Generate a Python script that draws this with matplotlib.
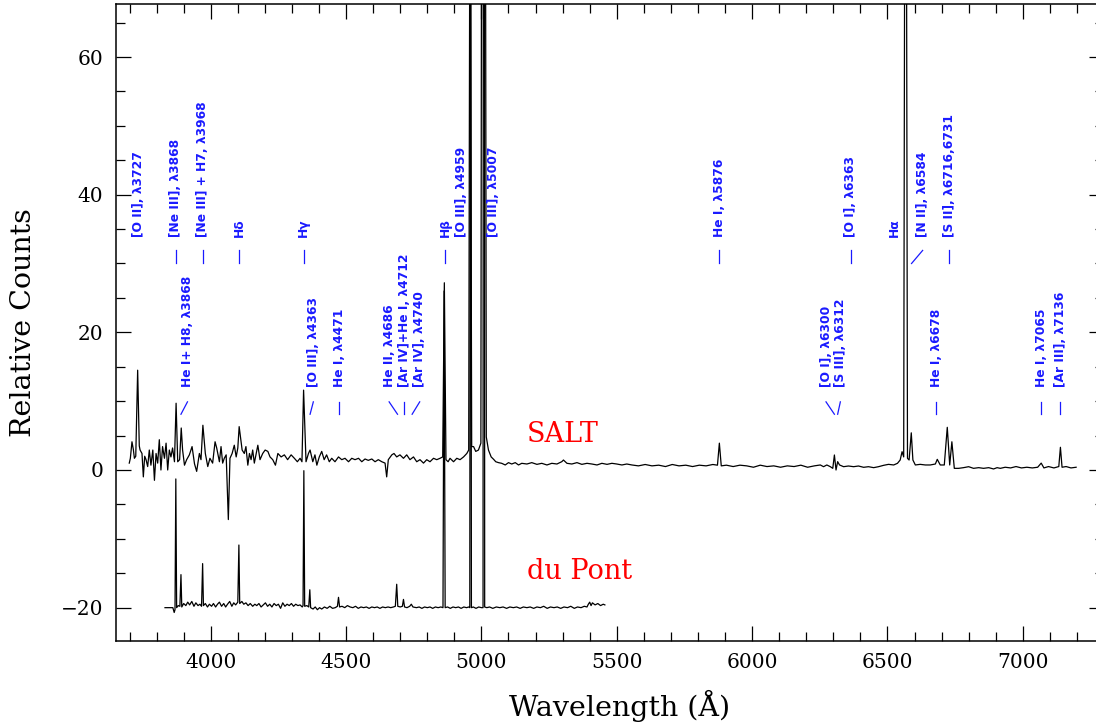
import matplotlib
matplotlib.use('Agg')
import matplotlib.pyplot as plt
from matplotlib.ticker import MultipleLocator

# SALT spectrum (wavelength in A, relative counts)
salt_wave = [3699, 3703, 3709, 3714, 3718, 3723, 3730, 3736, 3739, 3746, 3751, 3756, 3761, 3767,
             3773, 3779, 3786, 3792, 3798, 3804, 3810, 3816, 3822, 3829, 3835, 3841, 3847, 3853,
             3859, 3866, 3872, 3878, 3885, 3891, 3896, 3903, 3911, 3921, 3931, 3940, 3948, 3958,
             3964, 3971, 3980, 3989, 3997, 4007, 4016, 4022, 4032, 4038, 4044, 4050, 4057, 4065,
             4071, 4079, 4087, 4094, 4100, 4105, 4116, 4124, 4130, 4137, 4143, 4149, 4155, 4161,
             4167, 4174, 4182, 4192, 4201, 4211, 4219, 4229, 4239, 4248, 4260, 4272, 4284, 4297,
             4309, 4320, 4330, 4337, 4343, 4352, 4361, 4367, 4377, 4385, 4392, 4401, 4410, 4419,
             4428, 4438, 4447, 4459, 4472, 4484, 4496, 4509, 4521, 4533, 4546, 4558, 4570, 4582,
             4595, 4607, 4619, 4632, 4644, 4650, 4656, 4669, 4677, 4687, 4699, 4712, 4724, 4736,
             4749, 4761, 4773, 4786, 4798, 4810, 4823, 4835, 4847, 4857, 4863, 4869, 4877, 4884,
             4897, 4909, 4921, 4934, 4946, 4953, 4958, 4964, 4971, 4979, 4989, 4998, 5007, 5018,
             5026, 5036, 5045, 5053, 5063, 5075, 5088, 5100, 5112, 5125, 5137, 5149, 5168, 5186,
             5205, 5223, 5242, 5260, 5279, 5297, 5303, 5316, 5334, 5353, 5371, 5390, 5408, 5427,
             5445, 5464, 5482, 5500, 5519, 5537, 5556, 5580, 5605, 5630, 5655, 5680, 5705, 5730,
             5755, 5780, 5805, 5830, 5855, 5872, 5879, 5886, 5905, 5930, 5955, 5980, 6005, 6030,
             6055, 6080, 6105, 6130, 6155, 6180, 6205, 6230, 6252, 6264, 6276, 6289, 6298, 6304,
             6310, 6316, 6323, 6338, 6356, 6375, 6393, 6412, 6430, 6449, 6467, 6486, 6504, 6523,
             6537, 6547, 6554, 6560, 6567, 6574, 6580, 6588, 6594, 6603, 6621, 6640, 6658, 6677,
             6684, 6695, 6710, 6721, 6730, 6738, 6747, 6763, 6781, 6800, 6818, 6837, 6855, 6874,
             6892, 6905, 6917, 6935, 6955, 6975, 6995, 7015, 7035, 7055, 7068, 7078, 7095, 7115,
             7133, 7139, 7145, 7160, 7178, 7197]
salt_flux = [1.0, 1.7, 4.1, 3.0, 1.7, 2.0, 14.5, 3.5, 2.9, 2.4, -1.0, 2.0, 1.5, 0.5,
             2.9, 0.7, 2.9, -1.5, 2.4, 1.0, 4.4, 0.0, 3.4, 1.7, 3.9, 0.0, 2.9, 1.9,
             3.2, 1.2, 9.7, 1.2, 1.5, 6.1, 2.9, 0.7, 1.5, 2.2, 3.4, 0.9, -0.2, 2.4,
             1.5, 6.5, 2.4, 0.5, 1.7, 1.0, 4.1, 3.2, 1.2, 3.4, 1.0, 1.7, 2.2, -7.2,
             1.7, 2.4, 3.6, 1.9, 3.2, 6.3, 2.9, 2.4, 3.4, 0.7, 2.4, 1.5, 2.9, 1.0,
             2.2, 3.6, 1.5, 2.4, 2.9, 2.7, 1.9, 1.5, 0.7, 2.4, 1.9, 2.2, 1.5, 2.2,
             1.7, 1.2, 1.7, 1.2, 11.6, 1.2, 2.4, 2.9, 1.2, 2.2, 0.7, 1.9, 2.7, 1.5,
             2.2, 1.2, 1.7, 1.2, 1.9, 1.5, 1.7, 1.2, 1.7, 1.5, 1.7, 1.2, 1.6, 1.4,
             1.6, 1.2, 1.5, 1.2, 1.0, -1.0, 1.5, 2.2, 2.4, 1.9, 2.2, 1.7, 2.2, 1.5,
             1.9, 1.2, 1.5, 1.0, 1.5, 1.2, 1.7, 1.5, 1.7, 1.9, 27.2, 1.5, 1.2, 1.7,
             1.2, 1.7, 1.5, 1.9, 2.4, 2.9, 100.0, 3.4, 3.4, 2.7, 2.9, 3.9, 300.0, 4.8,
             2.9, 1.9, 1.55, 1.2, 1.07, 0.97, 0.73, 1.07, 0.87, 1.07, 0.73, 0.97, 0.87, 1.07,
             0.82, 0.97, 0.73, 0.97, 0.87, 1.21, 1.45, 0.97, 0.87, 1.07, 0.82, 0.97, 0.87, 0.73,
             0.97, 0.82, 0.97, 0.87, 0.73, 0.87, 0.73, 0.6, 0.8, 0.6, 0.7, 0.5, 0.8, 0.6,
             0.7, 0.5, 0.7, 0.6, 0.8, 0.7, 3.9, 0.6, 0.7, 0.5, 0.7, 0.6, 0.4, 0.7,
             0.5, 0.6, 0.4, 0.6, 0.5, 0.7, 0.4, 0.6, 0.73, 0.48, 0.73, 0.48, 0.24, 2.18,
             0.0, 1.21, 0.73, 0.48, 0.58, 0.48, 0.58, 0.39, 0.48, 0.34, 0.48, 0.68, 0.82, 0.73,
             0.97, 1.45, 2.66, 1.9, 150.0, 1.7, 1.45, 5.4, 1.45, 0.73, 0.82, 0.73, 0.73, 0.87,
             1.55, 0.73, 0.73, 6.2, 0.73, 4.1, 0.24, 0.24, 0.34, 0.48, 0.24, 0.34, 0.24, 0.34,
             0.15, 0.34, 0.24, 0.4, 0.3, 0.5, 0.3, 0.4, 0.3, 0.4, 1.0, 0.3, 0.5, 0.3,
             0.5, 3.3, 0.4, 0.5, 0.3, 0.4]

# du Pont spectrum, plotted shifted down by 20
dupont_wave = [3831, 3850, 3860, 3865, 3868, 3871, 3874, 3880, 3886, 3890, 3893, 3900, 3908, 3915,
               3922, 3930, 3938, 3945, 3953, 3960, 3966, 3970, 3973, 3980, 3988, 3995, 4003, 4010,
               4018, 4025, 4032, 4040, 4048, 4055, 4062, 4070, 4078, 4085, 4092, 4100, 4104, 4107,
               4115, 4122, 4130, 4138, 4146, 4155, 4163, 4170, 4178, 4186, 4194, 4202, 4210, 4218,
               4226, 4234, 4242, 4250, 4258, 4266, 4274, 4282, 4290, 4298, 4306, 4314, 4322, 4330,
               4338, 4341, 4344, 4347, 4355, 4362, 4366, 4369, 4378, 4386, 4394, 4402, 4410, 4420,
               4430, 4440, 4450, 4460, 4468, 4472, 4476, 4485, 4495, 4505, 4515, 4525, 4535, 4545,
               4555, 4565, 4575, 4585, 4595, 4605, 4615, 4625, 4635, 4645, 4655, 4665, 4675, 4682,
               4687, 4691, 4700, 4708, 4712, 4716, 4725, 4735, 4741, 4747, 4760, 4770, 4780, 4790,
               4800, 4810, 4820, 4830, 4840, 4850, 4858, 4862, 4866, 4875, 4885, 4895, 4905, 4915,
               4925, 4935, 4945, 4953, 4957, 4960, 4963, 4970, 4980, 4990, 5000, 5006, 5009, 5012,
               5020, 5030, 5042, 5055, 5068, 5080, 5093, 5105, 5118, 5130, 5143, 5155, 5168, 5180,
               5193, 5205, 5218, 5230, 5243, 5255, 5268, 5280, 5293, 5305, 5318, 5330, 5343, 5355,
               5368, 5380, 5390, 5395, 5400, 5405, 5410, 5420, 5430, 5440, 5450, 5456]
dupont_flux = [0.0, 0.0, 0.0, -0.7, -0.3, 18.7, 0.0, 0.3, 0.2, 4.8, 0.1, 0.6, 0.3, 0.8,
               0.4, 0.9, 0.2, 0.7, 0.3, 0.5, 0.2, 6.4, 0.3, 0.6, 0.1, 0.5, 0.2, 0.6,
               0.1, 0.5, 0.8, 0.2, 0.6, 0.1, 0.5, 0.9, 0.2, 0.7, 0.4, 0.8, 9.1, 0.6,
               0.9, 0.5, 0.7, 0.3, 0.6, 0.2, 0.5, 0.3, 0.6, 0.1, 0.4, 0.7, 0.2, 0.5,
               0.1, 0.6, 0.3, 0.5, -0.1, 0.7, 0.2, 0.5, 0.3, 0.6, 0.2, 0.5, 0.3, 0.4,
               0.1, 0.3, 19.9, 0.2, 0.3, 0.1, 2.6, 0.0, -0.2, 0.1, -0.3, 0.0, -0.2, 0.1,
               -0.1, 0.2, -0.1, 0.0, 0.2, 1.5, 0.1, 0.2, 0.0, 0.3, 0.1, 0.0, 0.2, -0.1,
               0.1, 0.0, 0.1, -0.1, 0.1, 0.0, 0.1, -0.1, 0.1, 0.0, 0.1, 0.0, 0.1, 0.2,
               3.4, 0.2, 0.1, 0.2, 1.2, 0.1, 0.0, 0.2, 0.5, 0.1, 0.0, 0.1, -0.1, 0.1,
               0.0, 0.1, -0.1, 0.1, 0.0, 0.1, 0.0, 46.0, 0.0, 0.1, -0.1, 0.1, 0.0, 0.1,
               -0.1, 0.1, 0.0, 0.1, 0.0, 140.0, 0.0, 0.1, -0.1, 0.1, 0.0, 0.0, 400.0, 0.1,
               0.0, 0.1, -0.1, 0.1, 0.0, 0.1, -0.1, 0.1, 0.0, 0.1, -0.1, 0.1, 0.0, 0.1,
               -0.1, 0.1, 0.0, 0.2, -0.1, 0.1, 0.0, 0.1, -0.1, 0.1, 0.0, 0.2, -0.1, 0.1,
               0.0, 0.2, 0.1, 0.5, 0.8, 0.3, 0.7, 0.4, 0.6, 0.3, 0.5, 0.4]
dupont_shift = -20

# line identifications: text, x of text, row (0 = upper, 1 = lower), marker top / bottom x
line_names = ["[O II], λ3727", "[Ne III], λ3868", "[Ne III] + H7, λ3968", "Hδ", "Hγ", "Hβ",
              "[O III], λ4959", "[O III], λ5007", "He I, λ5876", "[O I], λ6363", "Hα",
              "[N II], λ6584", "[S II], λ6716,6731",
              "He I+ H8, λ3868", "[O III], λ4363", "He I, λ4471", "He II, λ4686",
              "[Ar IV]+He I, λ4712", "[Ar IV], λ4740", "[O I], λ6300", "[S III], λ6312",
              "He I, λ6678", "He I, λ7065", "[Ar III], λ7136"]
line_x = [3732, 3869, 3970, 4105, 4344, 4865, 4926, 5043, 5879, 6365, 6525, 6630, 6728,
          3914, 4379, 4475, 4659, 4714, 4772, 6273, 6326, 6681, 7069, 7138]
line_row = [0] * 13 + [1] * 11
tick_top = [None, 3872, 3970, 4105, 4344, 4865, None, None, 5879, 6365, None, 6630, 6728,
            3914, 4379, 4475, 4659, 4714, 4772, 6273, 6326, 6681, 7069, 7138]
tick_bot = [None, 3872, 3970, 4105, 4344, 4865, None, None, 5879, 6365, None, 6589, 6728,
            3890, 4367, 4475, 4690, 4714, 4744, 6304, 6316, 6681, 7069, 7138]

serif = 'DejaVu Serif'
blue = '#1a1aff'

fig = plt.figure(figsize=(10.96, 7.25), dpi=100)
ax = fig.add_axes([116 / 1096, 84.3 / 725, 988 / 1096, 636.7 / 725])

ax.plot(salt_wave, salt_flux, color='black', lw=0.9)
ax.plot(dupont_wave, [f + dupont_shift for f in dupont_flux], color='black', lw=0.9)

text_y = [33.9, 12.1]
mark_y = [(30.0, 31.9), (8.1, 9.9)]
for name, x, row, tt, tb in zip(line_names, line_x, line_row, tick_top, tick_bot):
    ax.text(x, text_y[row], name, rotation=90, ha='center', va='bottom',
            color=blue, fontsize=8.8, fontweight='bold', family='DejaVu Sans')
    if tt is not None:
        ax.plot([tb, tt], mark_y[row], color=blue, lw=0.9)

ax.text(5169, 5.1, 'SALT', color='red', fontsize=19.5, family=serif, va='center')
ax.text(5169, -14.8, 'du Pont', color='red', fontsize=19.5, family=serif, va='center')

ax.set_xlim(3650, 7300)
ax.set_ylim(-24.8, 67.7)
ax.xaxis.set_major_locator(MultipleLocator(500))
ax.xaxis.set_minor_locator(MultipleLocator(100))
ax.yaxis.set_major_locator(MultipleLocator(20))
ax.yaxis.set_minor_locator(MultipleLocator(5))
ax.tick_params(which='both', direction='in', top=True, right=True, width=0.9)
ax.tick_params(which='major', length=11, pad=9, labelsize=14.5)
ax.tick_params(which='minor', length=6.5)
for lab in ax.get_xticklabels() + ax.get_yticklabels():
    lab.set_family(serif)
for sp in ax.spines.values():
    sp.set_linewidth(1.1)

ax.set_xlabel('Wavelength (Å)', family=serif, fontsize=20.5)
ax.set_ylabel('Relative Counts', family=serif, fontsize=20.5)
ax.xaxis.set_label_coords(0.510, -0.077)
ax.yaxis.set_label_coords(-0.080, 0.5)

fig.savefig('out.png', dpi=100)
